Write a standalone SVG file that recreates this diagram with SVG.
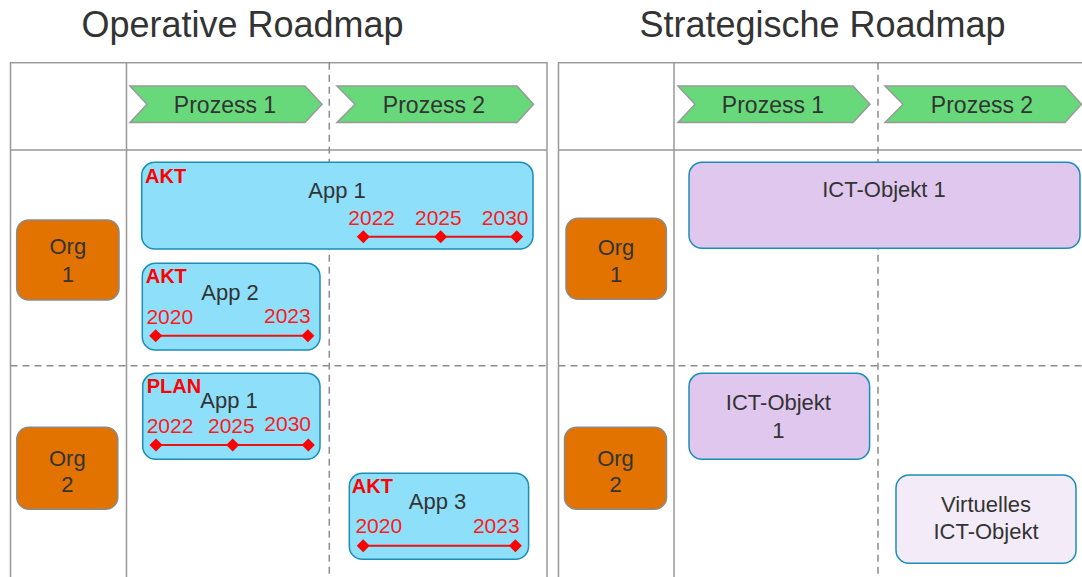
<svg xmlns="http://www.w3.org/2000/svg" width="1082" height="577" viewBox="0 0 1082 577">
<style>
text{font-family:"Liberation Sans",Arial,sans-serif;fill:#333}
.title{font-size:36px;text-anchor:middle}
.grid{fill:none;stroke:#999;stroke-width:1.5}
.dash{fill:none;stroke:#8c8c8c;stroke-width:1.5;stroke-dasharray:7 5}
.proc{fill:#67d97a;stroke:#999;stroke-width:1.5}
.proc-t{font-size:23px;text-anchor:middle}
.org{fill:#e37300;stroke:#8a8a8a;stroke-width:1.5}
.lbl{font-size:22px;text-anchor:middle}
.app{fill:#8ddffa;stroke:#1c8db6;stroke-width:1.5}
.ict{fill:#dfc7ee;stroke:#1c8db6;stroke-width:1.5}
.vict{fill:#f3ecf8;stroke:#1c8db6;stroke-width:1.5}
.st{font-size:20px;font-weight:bold;fill:#ff0000}
.yr{font-size:21px;fill:#ff1a1a}
.end{text-anchor:end}
.tl{fill:none;stroke:#ee1111;stroke-width:2;marker-start:url(#dia);marker-mid:url(#dia);marker-end:url(#dia)}
</style>
<defs>
<marker id="dia" viewBox="-7 -7 14 14" markerWidth="14" markerHeight="14" markerUnits="userSpaceOnUse" refX="0" refY="0" orient="0">
<path d="M0,-6.5 L6.5,0 L0,6.5 L-6.5,0Z" fill="#ff0000"/>
</marker>
</defs>
<rect width="1082" height="577" fill="#fff"/>
<text class="title" x="242.5" y="37">Operative Roadmap</text>
<text class="title" x="822.5" y="37">Strategische Roadmap</text>
<g id="grid-left">
<rect x="10.5" y="62.7" width="536.5" height="530" fill="#f1f1f1" class="grid"/>
<line class="grid" x1="10.5" y1="150" x2="547" y2="150"/>
<line class="grid" x1="126.5" y1="62.7" x2="126.5" y2="590"/>
<line class="dash" x1="329.3" y1="62.7" x2="329.3" y2="590"/>
<line class="dash" x1="10.5" y1="365.7" x2="547" y2="365.7"/>
</g>
<g id="grid-right">
<rect x="558.5" y="62.7" width="536.5" height="530" fill="#f1f1f1" class="grid"/>
<line class="grid" x1="558.5" y1="150" x2="1095" y2="150"/>
<line class="grid" x1="674" y1="62.7" x2="674" y2="590"/>
<line class="dash" x1="878" y1="62.7" x2="878" y2="590"/>
<line class="dash" x1="558.5" y1="365.7" x2="1095" y2="365.7"/>
</g>
<g id="op-prozess1"><polygon class="proc" points="130,86 305,86 322,104.3 305,122.5 130,122.5 147,104.3"/><text class="proc-t" x="225" y="113">Prozess 1</text></g>
<g id="op-prozess2"><polygon class="proc" points="337,86 517,86 533.5,104.3 517,122.5 337,122.5 355,104.3"/><text class="proc-t" x="434" y="113">Prozess 2</text></g>
<g id="st-prozess1"><polygon class="proc" points="678,86 853,86 870,104.3 853,122.5 678,122.5 695,104.3"/><text class="proc-t" x="773" y="113">Prozess 1</text></g>
<g id="st-prozess2"><polygon class="proc" points="885,86 1065,86 1081.5,104.3 1065,122.5 885,122.5 903,104.3"/><text class="proc-t" x="982" y="113">Prozess 2</text></g>
<g id="op-org1"><rect class="org" x="16.7" y="220" width="102.3" height="80" rx="12"/><text class="lbl" x="67.8" y="254">Org</text><text class="lbl" x="67.8" y="281.7">1</text></g>
<g id="op-org2"><rect class="org" x="16.8" y="427.3" width="101" height="82" rx="12"/><text class="lbl" x="67.3" y="465.7">Org</text><text class="lbl" x="67.3" y="492.3">2</text></g>
<g id="st-org1"><rect class="org" x="566" y="218.3" width="100.4" height="81" rx="12"/><text class="lbl" x="616" y="255">Org</text><text class="lbl" x="616" y="281.7">1</text></g>
<g id="st-org2"><rect class="org" x="564.5" y="427.3" width="102" height="82" rx="12"/><text class="lbl" x="615.5" y="465.7">Org</text><text class="lbl" x="615.5" y="492.3">2</text></g>
<g id="app1-org1">
<rect class="app" x="141.7" y="162.3" width="391.3" height="86.7" rx="13"/>
<text class="st" x="145" y="183">AKT</text>
<text class="lbl" x="337" y="198">App 1</text>
<text class="yr" x="348.3" y="225">2022</text><text class="yr" x="415" y="225">2025</text><text class="yr end" x="528.5" y="225">2030</text>
<polyline class="tl" points="363.3,236.7 440.7,236.7 516.7,236.7"/>
</g>
<g id="app2-org1">
<rect class="app" x="142.3" y="263.3" width="177.7" height="86.7" rx="13"/>
<text class="st" x="145.7" y="283.3">AKT</text>
<text class="lbl" x="230" y="300">App 2</text>
<text class="yr" x="146.4" y="324">2020</text><text class="yr end" x="310.7" y="323">2023</text>
<polyline class="tl" points="155.7,335.7 307.9,335.7"/>
</g>
<g id="app1-org2">
<rect class="app" x="142.7" y="373.3" width="177.3" height="86" rx="13"/>
<text class="st" x="146.7" y="393.3">PLAN</text>
<text class="lbl" x="229" y="408">App 1</text>
<text class="yr" x="146.7" y="433">2022</text><text class="yr" x="208" y="433">2025</text><text class="yr" x="264.3" y="431">2030</text>
<polyline class="tl" points="156,445 232.7,445 308.3,445"/>
</g>
<g id="app3-org2">
<rect class="app" x="349.3" y="473.3" width="179.3" height="86" rx="13"/>
<text class="st" x="351.8" y="493.3">AKT</text>
<text class="lbl" x="437.5" y="509.3">App 3</text>
<text class="yr" x="355.4" y="533.3">2020</text><text class="yr end" x="519.6" y="533">2023</text>
<polyline class="tl" points="363.2,545.7 515.4,545.7"/>
</g>
<g id="ict1-org1"><rect class="ict" x="689" y="162.3" width="391" height="86" rx="13"/><text class="lbl" x="884" y="196.7">ICT-Objekt 1</text></g>
<g id="ict1-org2"><rect class="ict" x="689" y="373.3" width="180.6" height="86" rx="13"/><text class="lbl" x="778.4" y="410">ICT-Objekt</text><text class="lbl" x="778.4" y="437.7">1</text></g>
<g id="vict-org2"><rect class="vict" x="896" y="475" width="180" height="88.3" rx="13"/><text class="lbl" x="986" y="511.7">Virtuelles</text><text class="lbl" x="986" y="539.3">ICT-Objekt</text></g>
<g id="connectors"/>
</svg>
